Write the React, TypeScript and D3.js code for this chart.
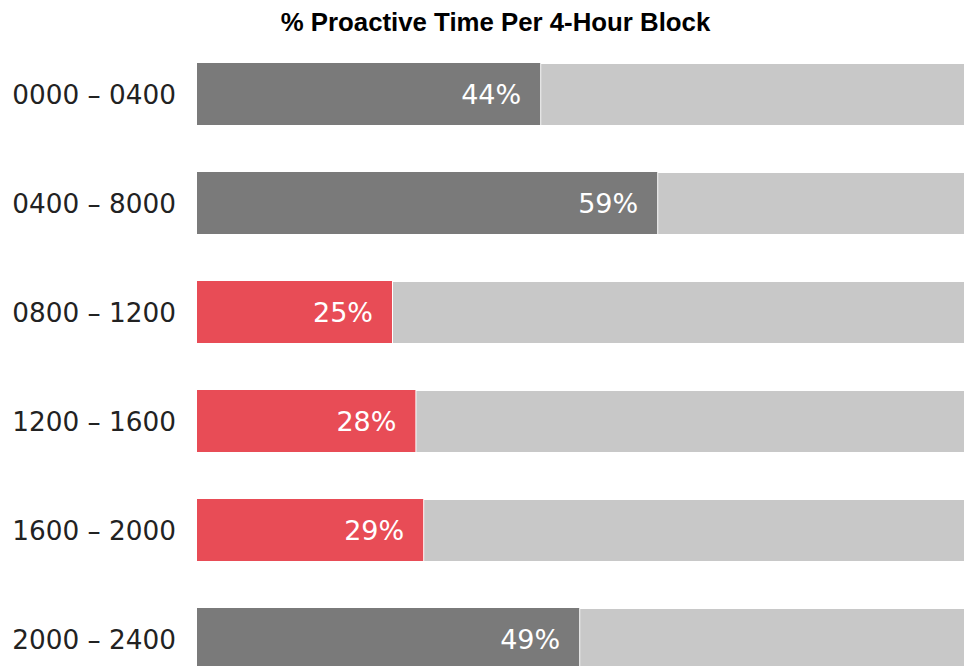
import React from "react";
import * as d3 from "d3";

const categories = ["0000 - 0400", "0400 - 8000", "0800 - 1200", "1200 - 1600", "1600 - 2000", "2000 - 2400"];
const values = [44, 59, 25, 28, 29, 49];
const highlight = [false, false, true, true, true, false];

const W = 964;
const H = 666;

export default function App() {
  const x = d3.scaleLinear().domain([0, 100]).range([197, 977]);
  const y = d3
    .scaleBand<string>()
    .domain(categories)
    .range([63, 670])
    .paddingInner(47 / 109)
    .paddingOuter(0);
  const bw = y.bandwidth();
  const font = "'DejaVu Sans', sans-serif";
  return (
    <svg
      width={W}
      height={H}
      style={{ position: "absolute", left: 0, top: 0, overflow: "hidden", background: "#fff" }}
    >
      <text
        x={495.5}
        y={31}
        textAnchor="middle"
        fontFamily="'Liberation Sans', Arial, sans-serif"
        fontWeight="bold"
        fontSize={25.8}
        fill="#000"
      >
        % Proactive Time Per 4-Hour Block
      </text>
      {categories.map((c, i) => {
        const y0 = y(c)!;
        const v = values[i];
        return (
          <g key={c}>
            <rect x={x(v) + 1} y={y0 + 1} width={x(100) - x(v) - 1} height={bw - 1} fill="#c8c8c8" />
            <rect x={x(0)} y={y0} width={x(v) - x(0)} height={bw} fill={highlight[i] ? "#e84c56" : "#7a7a7a"} />
            <text
              x={x(v) - 19}
              y={y0 + bw / 2 + 10}
              textAnchor="end"
              fontFamily={font}
              fontSize={27}
              fill="#fff"
            >
              {v}%
            </text>
            <text
              x={176}
              y={y0 + bw / 2 + 10}
              textAnchor="end"
              fontFamily={font}
              fontSize={26.3}
              fill="#222"
            >
              {c.replace(" - ", " – ")}
            </text>
          </g>
        );
      })}
    </svg>
  );
}
